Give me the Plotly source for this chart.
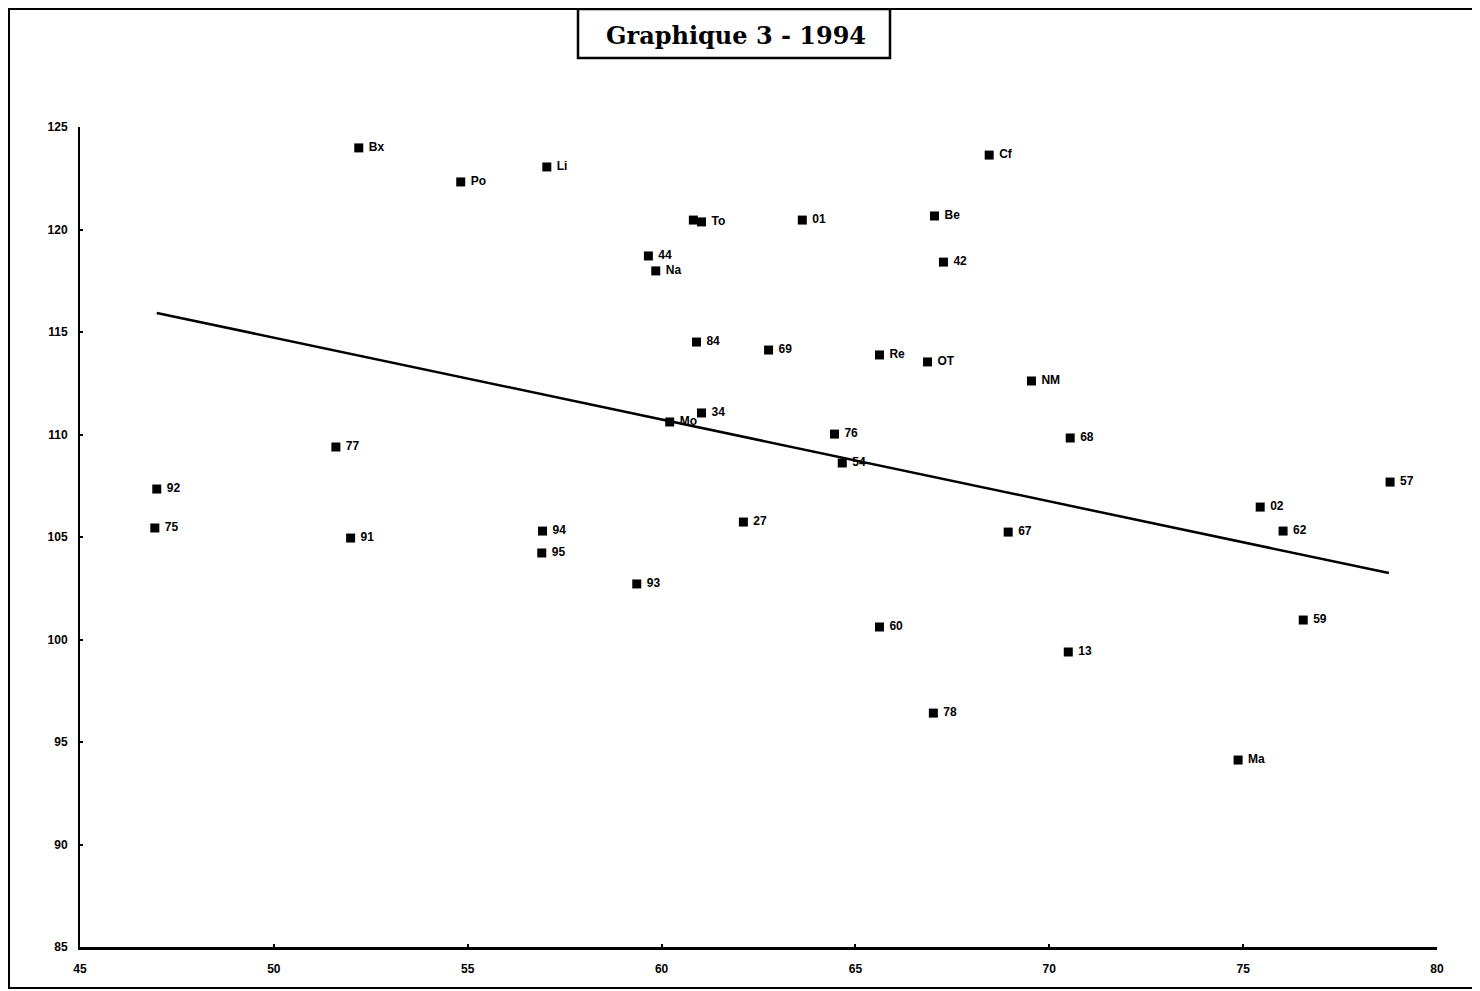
import plotly.graph_objects as go

# Data
labels = ["Bx", "Po", "Li", "Cf", "", "To", "01", "Be", "44", "Na", "42",
          "84", "69", "Re", "OT", "NM", "34", "Mo", "76", "68", "77", "54",
          "92", "57", "02", "75", "91", "94", "95", "27", "67", "62", "93",
          "60", "59", "13", "78", "Ma"]
x_vals = [52.19, 54.82, 57.04, 68.45, 60.82, 61.03, 63.63, 67.04, 59.66, 59.85, 67.27,
          60.90, 62.76, 65.62, 66.86, 69.54, 61.03, 60.21, 64.46, 70.54, 51.60, 64.66,
          46.98, 78.79, 75.44, 46.93, 51.98, 56.93, 56.91, 62.11, 68.94, 76.03, 59.36,
          65.62, 76.55, 70.49, 67.01, 74.87]
y_vals = [123.98, 122.32, 123.05, 123.63, 120.46, 120.37, 120.46, 120.66, 118.71, 117.98, 118.41,
          114.51, 114.12, 113.88, 113.54, 112.61, 111.05, 110.61, 110.02, 109.83, 109.39, 108.61,
          107.34, 107.68, 106.46, 105.44, 104.95, 105.29, 104.22, 105.73, 105.24, 105.29, 102.71,
          100.61, 100.95, 99.39, 96.41, 94.12]

trend_x = [46.98, 78.76]
trend_y = [115.93, 103.24]

x_ticks = [45, 50, 55, 60, 65, 70, 75, 80]
y_ticks = [85, 90, 95, 100, 105, 110, 115, 120, 125]
title_text = "Graphique 3 - 1994"

fig = go.Figure()
fig.add_trace(go.Scatter(
    x=trend_x, y=trend_y, mode="lines",
    line=dict(color="black", width=2.5), hoverinfo="skip", showlegend=False))
fig.add_trace(go.Scatter(
    x=x_vals, y=y_vals, mode="markers+text",
    text=[(" " + s) if s else "" for s in labels],
    textposition="middle right",
    textfont=dict(family="Liberation Sans, Arial", size=12, color="black", weight="bold"),
    marker=dict(symbol="square", size=9, color="black"),
    showlegend=False))

axis_font = dict(family="Liberation Sans Narrow, Liberation Sans, Arial", size=12,
                 color="black", weight="bold")
fig.update_xaxes(range=[45, 80], tickvals=x_ticks, ticktext=[str(v) for v in x_ticks],
                 showgrid=False, zeroline=False, showline=True, linecolor="black",
                 linewidth=2.5, ticks="inside", ticklen=3, tickwidth=1.5, tickcolor="black",
                 tickfont=axis_font, ticklabelstandoff=9)
fig.update_yaxes(range=[85, 125], tickvals=y_ticks, ticktext=[str(v) for v in y_ticks],
                 showgrid=False, zeroline=False, showline=True, linecolor="black",
                 linewidth=2, ticks="inside", ticklen=3, tickwidth=1.5, tickcolor="black",
                 tickfont=axis_font, ticklabelstandoff=8)

# page body has an 8px margin, so the figure is sized and placed to compensate
OFF = 8
W, H = 1480 - OFF, 991 - OFF
L, T = 80 - OFF, 127 - OFF
R = W - (1437 - OFF)
B = H - (947 - OFF)
pw, ph = W - L - R, H - T - B

def px2paper_x(px):
    return (px - OFF - L) / pw

def px2paper_y(py):
    return (H - B - (py - OFF)) / ph

shapes = [
    # outer frame
    dict(type="rect", xref="paper", yref="paper",
         x0=px2paper_x(9), x1=px2paper_x(1477), y0=px2paper_y(988), y1=px2paper_y(9),
         line=dict(color="black", width=2), fillcolor="rgba(0,0,0,0)"),
    # title box
    dict(type="rect", xref="paper", yref="paper",
         x0=px2paper_x(578), x1=px2paper_x(890), y0=px2paper_y(58), y1=px2paper_y(9),
         line=dict(color="black", width=2.5), fillcolor="white"),
]
fig.update_layout(
    width=W, height=H,
    margin=dict(l=L, r=R, t=T, b=B),
    plot_bgcolor="white", paper_bgcolor="white",
    shapes=shapes,
    annotations=[dict(
        text=title_text, xref="paper", yref="paper",
        x=px2paper_x(736), y=px2paper_y(36), xanchor="center", yanchor="middle",
        showarrow=False,
        font=dict(family="DejaVu Serif", size=24, color="black", weight="bold"))],
)

fig.write_html("out.html")
